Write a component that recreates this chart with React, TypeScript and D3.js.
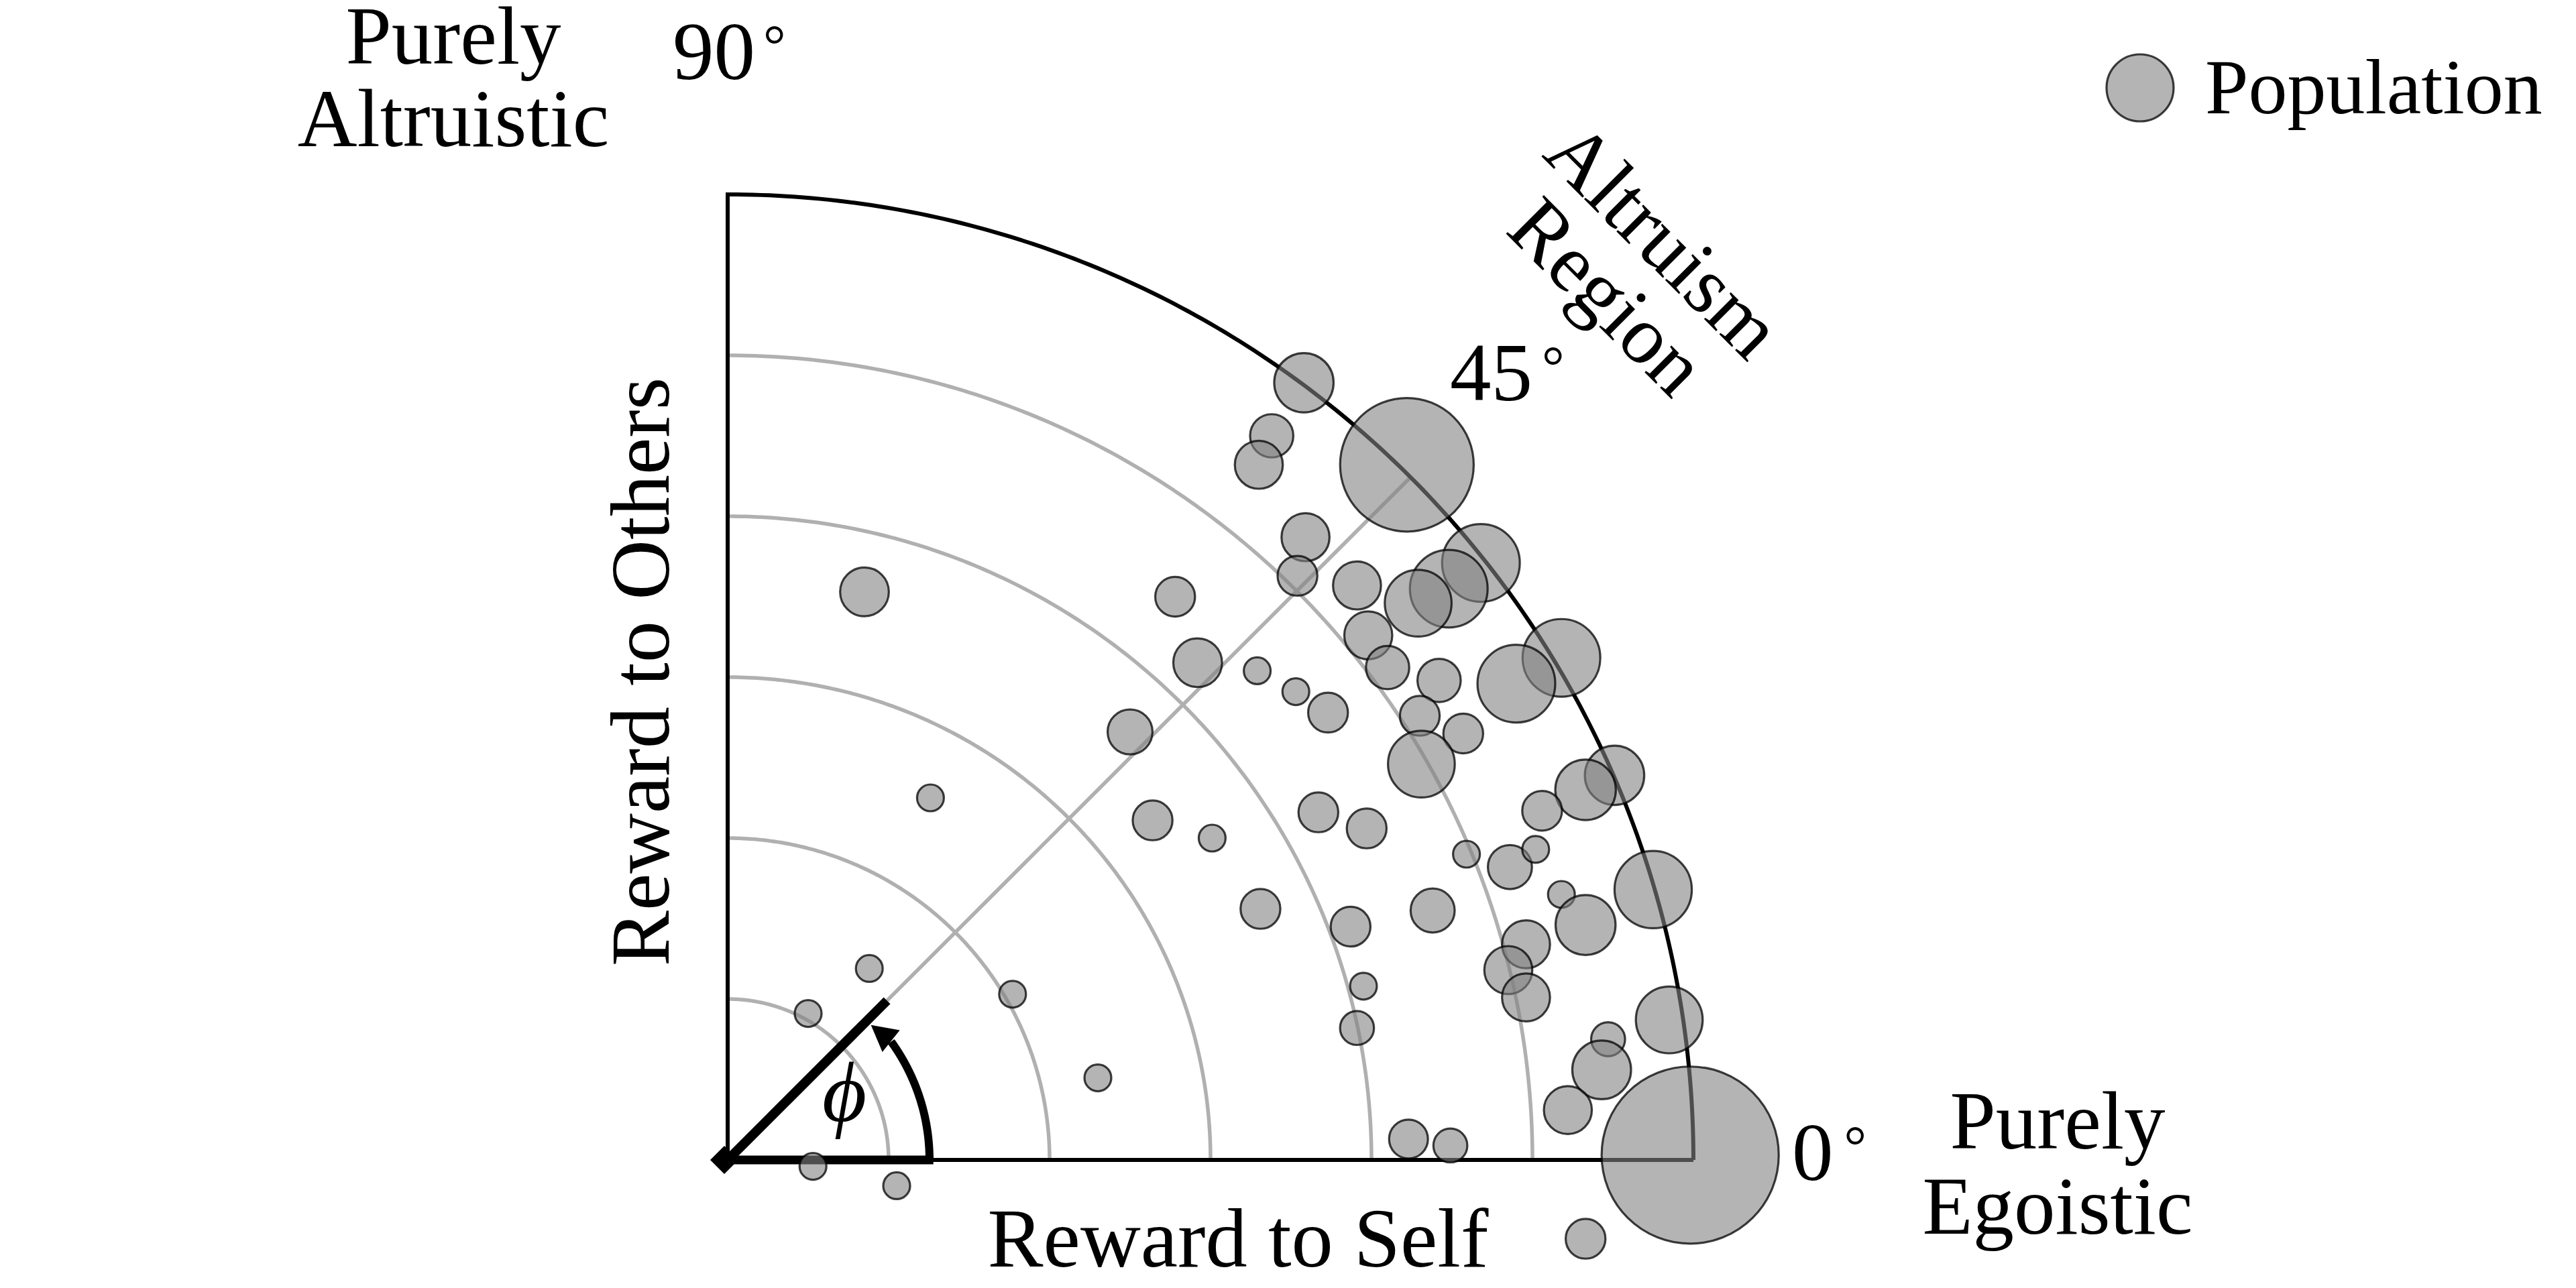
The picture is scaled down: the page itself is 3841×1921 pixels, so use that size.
import React from 'react';
import * as d3 from 'd3';

// ---- data (reward to self, reward to others, population size) ----
const rewardToSelf = [
  3.58, 3.38, 3.30, 4.22, 3.59, 3.54, 3.91, 4.68, 4.48, 4.29,
  3.98, 4.10, 4.42, 5.18, 4.90, 3.29, 3.53, 3.73, 4.30, 4.57,
  4.31, 5.51, 5.33, 5.06, 4.59, 4.86, 5.02, 5.75, 5.18, 5.33,
  3.67, 3.97, 3.01, 3.31, 3.87, 4.38, 4.96, 4.85, 4.96, 3.95,
  3.91, 5.85, 5.47, 5.43, 5.22, 5.98, 4.49, 4.23, 5.33, 0.88,
  0.50, 1.77, 0.53, 1.05, 0.85, 2.78, 2.92, 2.50, 1.26, 2.64,
  2.30,
];
const rewardToOthers = [
  4.83, 4.50, 4.32, 4.32, 3.87, 3.63, 3.57, 3.71, 3.55, 3.46,
  3.26, 3.06, 2.98, 3.12, 2.96, 3.04, 2.91, 2.78, 2.76, 2.65,
  2.46, 2.39, 2.30, 2.17, 1.90, 1.82, 1.93, 1.68, 1.65, 1.46,
  2.16, 2.06, 2.00, 1.56, 1.45, 1.55, 1.34, 1.18, 1.01, 1.08,
  0.82, 0.87, 0.75, 0.56, 0.31, 0.03, 0.09, 0.13, -0.49, 1.19,
  0.91, 1.03, -0.04, -0.16, 3.53, 3.50, 3.09, 2.66, 2.25, 2.11,
  0.51,
];
const population = [
  4.9, 2.6, 3.2, 24.8, 3.2, 2.2, 3.2, 8.4, 8.4, 6.2,
  3.2, 2.6, 2.6, 8.4, 8.4, 1.0, 1.0, 2.2, 2.2, 2.2,
  6.2, 4.9, 5.1, 2.2, 1.0, 2.7, 1.0, 8.3, 1.0, 5.0,
  2.2, 2.2, 1.0, 2.2, 2.2, 2.7, 3.2, 3.2, 3.2, 1.0,
  1.6, 6.2, 1.6, 4.8, 3.2, 43.6, 1.6, 2.1, 2.2, 1.0,
  1.0, 1.0, 1.0, 1.0, 3.3, 2.2, 3.3, 2.8, 1.0, 2.2,
  1.0,
];
const ringLevels = [1, 2, 3, 4, 5];
const outerLevel = 6;
const diagonalAngle = 45;
const angleTickLabels = ['90', '45', '0'];
const legendLabel = 'Population';

const W = 3841;
const H = 1921;
const FONT = "'Liberation Serif', 'Times New Roman', Times, serif";

export default function App() {
  const x = d3.scaleLinear().domain([0, outerLevel]).range([1085, 2525]);
  const y = d3.scaleLinear().domain([0, outerLevel]).range([1730, 290]);
  const rScale = d3.scaleSqrt().domain([0, 1]).range([0, 20]);

  const polar = (r: number, deg: number): [number, number] => {
    const a = (deg * Math.PI) / 180;
    return [x(r * Math.cos(a)), y(r * Math.sin(a))];
  };
  const line = d3.line<[number, number]>();
  const arcPath = (r: number, a0: number, a1: number) =>
    line(d3.range(a0, a1 + 0.001, (a1 - a0) / 180).map((a) => polar(r, a))) || '';

  const bubbles = rewardToSelf.map((s, i) => ({
    cx: x(s),
    cy: y(rewardToOthers[i]),
    r: rScale(population[i]),
  }));

  const gray = '#b0b0b0';
  const o = [x(0), y(0)];
  const diag = polar(outerLevel, diagonalAngle);
  const thickDiag = polar(1.4, diagonalAngle);
  const tip = polar(1.223, 43.3);
  const c1 = polar(1.172, 34.9);
  const c2 = polar(1.339, 37.0);

  const deg = (dx = 14) => (
    <tspan dx={dx} dy={-22} fontSize={84}>°</tspan>
  );

  return (
    <svg
      width={W}
      height={H}
      viewBox={`0 0 ${W} ${H}`}
      style={{ position: 'absolute', left: 0, top: 0, background: '#fff' }}
    >
      <rect width={W} height={H} fill="#fff" />
      {/* grid rings */}
      {ringLevels.map((lv) => (
        <path key={lv} d={arcPath(lv, 0, 90)} fill="none" stroke={gray} strokeWidth={5.5} />
      ))}
      <line x1={o[0]} y1={o[1]} x2={diag[0]} y2={diag[1]} stroke={gray} strokeWidth={5.5} />
      {/* axes and outer arc */}
      <path d={arcPath(outerLevel, 0, 90)} fill="none" stroke="#000" strokeWidth={6} />
      <line x1={x(0)} y1={y(0)} x2={x(outerLevel)} y2={y(0)} stroke="#000" strokeWidth={6} />
      <line x1={x(0)} y1={y(0)} x2={x(0)} y2={y(outerLevel)} stroke="#000" strokeWidth={6} strokeLinecap="square" />
      {/* phi annotation */}
      <line x1={x(0)} y1={y(0)} x2={x(1.278)} y2={y(0)} stroke="#000" strokeWidth={13} />
      <line x1={o[0]} y1={o[1]} x2={thickDiag[0]} y2={thickDiag[1]} stroke="#000" strokeWidth={14} />
      <polygon
        points={`${o[0] - 26},${o[1]} ${o[0] - 5},${o[1] - 21} ${o[0] + 16},${o[1]} ${o[0] - 5},${o[1] + 21}`}
        fill="#000"
      />
      <path d={arcPath(1.254, 0, 35.9)} fill="none" stroke="#000" strokeWidth={12} />
      <polygon points={[tip, c1, c2].map((p) => p.join(',')).join(' ')} fill="#000" />
      <text
        x={1259}
        y={1672}
        fontFamily={FONT}
        fontStyle="italic"
        fontSize={128}
        textAnchor="middle"
      >
        ϕ
      </text>
      {/* bubbles */}
      {bubbles.map((b, i) => (
        <circle
          key={i}
          cx={b.cx}
          cy={b.cy}
          r={b.r}
          fill="#828282"
          fillOpacity={0.6}
          stroke="#000"
          strokeOpacity={0.75}
          strokeWidth={3.2}
        />
      ))}
      {/* labels */}
      <g fontFamily={FONT} fontSize={123} fill="#000">
        <text x={676} y={95} textAnchor="middle">Purely</text>
        <text x={676} y={218} textAnchor="middle">Altruistic</text>
        <text x={1003} y={118}>{angleTickLabels[0]}{deg(12)}</text>
        <text x={2162} y={597}>{angleTickLabels[1]}{deg(14)}</text>
        <text x={2672} y={1760}>{angleTickLabels[2]}{deg(16)}</text>
        <text x={3068} y={1713} textAnchor="middle">Purely</text>
        <text x={3068} y={1840} textAnchor="middle">Egoistic</text>
        <text x={1846} y={1889} textAnchor="middle" fontSize={124.5}>Reward to Self</text>
        <text transform="translate(997,1002) rotate(-90)" textAnchor="middle" fontSize={124.5}>Reward to Others</text>
        <text transform="translate(2452,387) rotate(45)" textAnchor="middle">Altruism</text>
        <text transform="translate(2368,471) rotate(45)" textAnchor="middle">Region</text>
      </g>
      {/* legend */}
      <circle
        cx={3191}
        cy={131}
        r={50}
        fill="#828282"
        fillOpacity={0.6}
        stroke="#000"
        strokeOpacity={0.75}
        strokeWidth={3.2}
      />
      <text x={3288} y={169} fontFamily={FONT} fontSize={116}>{legendLabel}</text>
    </svg>
  );
}
